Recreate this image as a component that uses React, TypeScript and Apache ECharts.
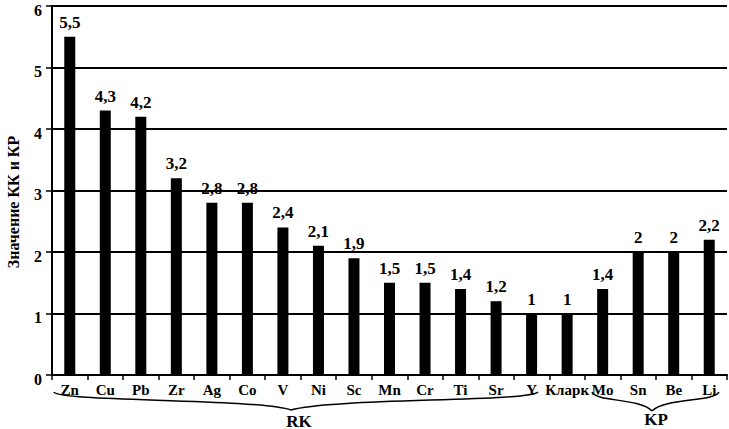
import React, { useEffect, useRef } from "react";
import * as echarts from "echarts";

const categories = ["Zn", "Cu", "Pb", "Zr", "Ag", "Co", "V", "Ni", "Sc", "Mn", "Cr", "Ti", "Sr", "Y", "Кларк", "Mo", "Sn", "Be", "Li"];
const values = [5.5, 4.3, 4.2, 3.2, 2.8, 2.8, 2.4, 2.1, 1.9, 1.5, 1.5, 1.4, 1.2, 1, 1, 1.4, 2, 2, 2.2];
const yTitle = "Значение КК и КР";
const groupLabels = ["RK", "KP"];

const FONT = "'Liberation Serif', 'Times New Roman', serif";

export default function App() {
  const ref = useRef<HTMLDivElement>(null);
  useEffect(() => {
    if (!ref.current) return;
    const chart = echarts.init(ref.current, null, { renderer: "svg" });
    chart.setOption({
      animation: false,
      backgroundColor: "#fff",
      grid: { left: 52, right: 2, top: 6, bottom: 54, containLabel: false, outerBoundsMode: "none" },
      xAxis: {
        type: "category",
        data: categories,
        axisLine: { lineStyle: { color: "#000", width: 2 } },
        axisTick: { show: true, length: 5, lineStyle: { color: "#000", width: 1.5 } },
        axisLabel: { color: "#000", fontFamily: FONT, fontSize: 15, fontWeight: "bold", margin: 7, interval: 0 },
      },
      yAxis: {
        type: "value",
        min: 0,
        max: 6,
        interval: 1,
        axisLine: { show: true, lineStyle: { color: "#000", width: 2 } },
        axisTick: { show: true, length: 6, lineStyle: { color: "#000", width: 1.5 } },
        axisLabel: {
          margin: 10,
          formatter: "{v|{value}}",
          rich: {
            v: {
              color: "#000",
              fontFamily: FONT,
              fontSize: 16,
              fontWeight: "bold",
              padding: [8, 0, 0, 0],
            },
          },
        },
        splitLine: { show: true, lineStyle: { color: "#000", width: 2 } },
      },
      series: [
        {
          type: "bar",
          data: values,
          barWidth: 11,
          itemStyle: { color: "#000" },
          label: {
            show: true,
            position: "top",
            distance: 6,
            color: "#000",
            fontFamily: FONT,
            fontSize: 17,
            fontWeight: "bold",
            formatter: (p: any) => String(p.value).replace(".", ","),
          },
        },
      ],
      graphic: [
        {
          type: "text",
          x: 13,
          y: 202,
          rotation: Math.PI / 2,
          style: { text: yTitle, fill: "#000", font: `bold 16px ${FONT}`, align: "center", verticalAlign: "middle" },
        },
        {
          type: "bezierCurve",
          shape: { x1: 54, y1: 392, cpx1: 58, cpy1: 402, cpx2: 255, cpy2: 398, x2: 291, y2: 410 },
          style: { stroke: "#000", lineWidth: 1.5, fill: null },
        },
        {
          type: "bezierCurve",
          shape: { x1: 291, y1: 410, cpx1: 330, cpy1: 398, cpx2: 530, cpy2: 402, x2: 538, y2: 392 },
          style: { stroke: "#000", lineWidth: 1.5, fill: null },
        },
        {
          type: "bezierCurve",
          shape: { x1: 592, y1: 392, cpx1: 596, cpy1: 402, cpx2: 640, cpy2: 398, x2: 652, y2: 411 },
          style: { stroke: "#000", lineWidth: 1.5, fill: null },
        },
        {
          type: "bezierCurve",
          shape: { x1: 652, y1: 411, cpx1: 664, cpy1: 398, cpx2: 714, cpy2: 402, x2: 719, y2: 392 },
          style: { stroke: "#000", lineWidth: 1.5, fill: null },
        },
        {
          type: "text",
          x: 299,
          y: 421,
          style: { text: groupLabels[0], fill: "#000", font: `bold 17px ${FONT}`, align: "center", verticalAlign: "middle" },
        },
        {
          type: "text",
          x: 656,
          y: 419,
          style: { text: groupLabels[1], fill: "#000", font: `bold 17px ${FONT}`, align: "center", verticalAlign: "middle" },
        },
      ],
    });
    return () => chart.dispose();
  }, []);
  return <div ref={ref} style={{ width: 729, height: 429, position: "absolute", left: 0, top: 0 }} />;
}
